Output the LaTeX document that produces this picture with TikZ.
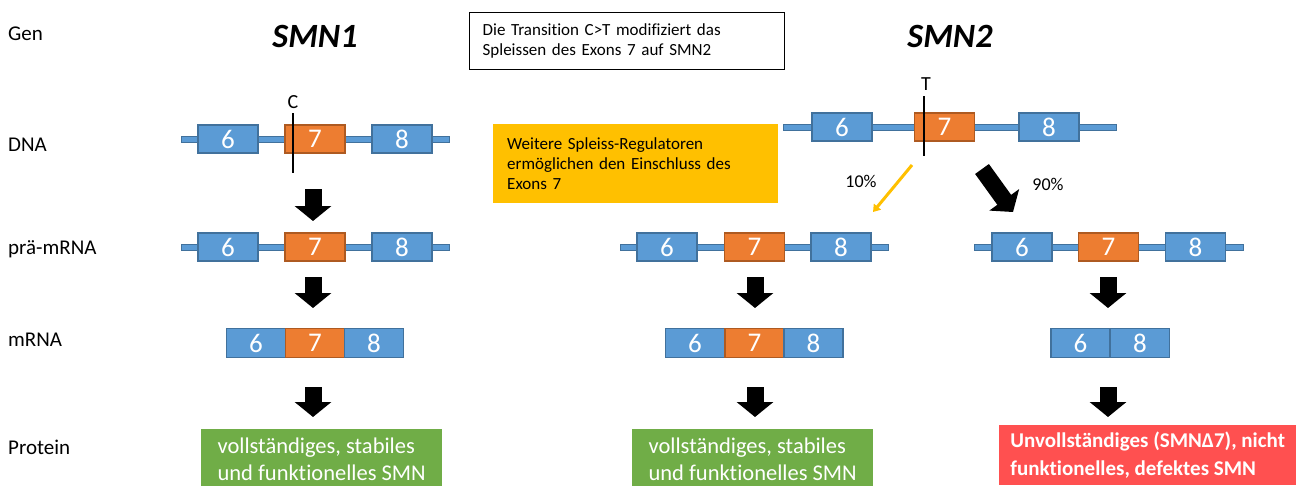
\documentclass[tikz,border=0pt]{standalone}
\usepackage{fontspec}
\setmainfont{Carlito}[Ligatures=NoCommon]
\usetikzlibrary{arrows.meta}
\definecolor{exblue}{HTML}{5B9BD5}
\definecolor{exblueb}{HTML}{41719C}
\definecolor{exor}{HTML}{ED7D31}
\definecolor{exorb}{HTML}{AE5A21}
\definecolor{pgreen}{HTML}{70AD47}
\definecolor{pred}{HTML}{FF5050}
\definecolor{gold}{HTML}{FFC000}
\begin{document}
\begin{tikzpicture}[x=1pt,y=-1pt,
 exon/.style={draw=exblueb, fill=exblue, line width=1.3pt, minimum width=60pt, minimum height=28pt, inner sep=0pt, text=white, font=\fontsize{27}{27}\selectfont},
 exseven/.style={exon, draw=exorb, fill=exor},
 mexon/.style={exon, minimum width=59pt, minimum height=29pt},
 mseven/.style={mexon, draw=exorb, fill=exor},
 intron/.style={draw=exblueb, fill=exblue, line width=1pt},
 rowlabel/.style={anchor=base west, font=\fontsize{21}{24}\selectfont, inner sep=0pt},
 gtitle/.style={anchor=base, font=\fontsize{34}{34}\selectfont\bfseries\itshape, inner sep=0pt},
 small/.style={anchor=base, font=\fontsize{18}{20}\selectfont, inner sep=0pt},
 baselabel/.style={anchor=base, font=\fontsize{20}{20}\selectfont, inner sep=0pt},
 blockarrow/.style={line width=17pt, -{Triangle[width=36pt,length=15pt]}},
 cut/.style={line width=2.5pt, black},
 protbox/.style={anchor=north west, text=white, align=left, inner xsep=11pt, inner ysep=4pt, minimum height=60pt, font=\fontsize{22.5}{27}\selectfont},
 notebox/.style={anchor=north west, align=left, inner xsep=14pt, font=\fontsize{17}{20}\selectfont}
]
\useasboundingbox (0,0) rectangle (1296,485);
% row labels
\node[rowlabel] (lgen) at (8,40) {Gen};
\node[rowlabel] (ldna) at (8,151) {DNA};
\node[rowlabel] (lpre) at (8,254) {prä-mRNA};
\node[rowlabel] (lmrna) at (8,346) {mRNA};
\node[rowlabel] (lprot) at (8,454) {Protein};
% titles
\node[gtitle] (t1) at (315,47) {SMN1};
\node[gtitle] (t2) at (950,47) {SMN2};
% top note box
\node[notebox, draw=black, line width=1.3pt, text width=289pt, minimum height=57pt, inner xsep=13pt] (note) at (469,12) {Die Transition C>T modifiziert das\\Spleissen des Exons 7 auf SMN2};
% yellow box
\node[notebox, fill=gold, text width=257pt, minimum height=79pt] (reg) at (493,124) {Weitere Spleiss-Regulatoren\\ermöglichen den Einschluss des\\Exons 7};

% SMN1 DNA
\draw[intron] (181,136) rectangle (449,142);
\node[exon] (a6) at (228,139) {6};
\node[exseven] (a7) at (315,139) {7};
\node[exon] (a8) at (402,139) {8};
\coordinate (c1) at (293,113);
\coordinate (c2) at (293,173);
\draw[cut] (c1) -- (c2);
\node[baselabel] (cC) at (293,108) {C};
% SMN1 pre-mRNA
\draw[intron] (181,244) rectangle (449,250);
\node[exon] (b6) at (228,247) {6};
\node[exseven] (b7) at (315,247) {7};
\node[exon] (b8) at (402,247) {8};
% SMN1 mRNA
\node[mexon] (m6) at (256,343) {6};
\node[mseven] (m7) at (315,343) {7};
\node[mexon] (m8) at (374,343) {8};
% SMN1 protein
\node[protbox, fill=pgreen, minimum width=241pt] (p1) at (201,429) {vollständiges, stabiles\\und funktionelles SMN};
% SMN1 arrows
\coordinate (s1a) at (313,189); \coordinate (s1b) at (313,221);
\coordinate (s2a) at (313,277); \coordinate (s2b) at (313,308);
\coordinate (s3a) at (313,387); \coordinate (s3b) at (313,417);
\draw[blockarrow] (s1a) -- (s1b);
\draw[blockarrow] (s2a) -- (s2b);
\draw[blockarrow] (s3a) -- (s3b);

% SMN2 DNA
\draw[intron] (783,124) rectangle (1116,130);
\node[exon] (d6) at (842,127) {6};
\node[exseven] (d7) at (944.5,127) {7};
\node[exon] (d8) at (1049,127) {8};
\coordinate (t1a) at (924,96);
\coordinate (t1b) at (924,156);
\draw[cut] (t1a) -- (t1b);
\node[baselabel] (tT) at (926,90) {T};

% split arrows
\coordinate (ya) at (912,165); \coordinate (yb) at (873,212);
\draw[gold, line width=3pt, -{Triangle[width=9pt,length=7pt]}] (ya) -- (yb);
\node[small] (p10) at (861,187) {10\%};
\coordinate (ka) at (982,169); \coordinate (kb) at (1013,212);
\draw[blockarrow] (ka) -- (kb);
\node[small] (p90) at (1048,190) {90\%};

% SMN2 middle pre-mRNA
\draw[intron] (620,244) rectangle (888,250);
\node[exon] (e6) at (667,247) {6};
\node[exseven] (e7) at (754.5,247) {7};
\node[exon] (e8) at (841,247) {8};
\node[mexon] (n6) at (695,343) {6};
\node[mseven] (n7) at (754.5,343) {7};
\node[mexon] (n8) at (813.5,343) {8};
\node[protbox, fill=pgreen, minimum width=241pt] (p2) at (632,429) {vollständiges, stabiles\\und funktionelles SMN};
\coordinate (u1a) at (755,277); \coordinate (u1b) at (755,308);
\coordinate (u2a) at (755,387); \coordinate (u2b) at (755,417);
\draw[blockarrow] (u1a) -- (u1b);
\draw[blockarrow] (u2a) -- (u2b);

% SMN2 right pre-mRNA
\draw[intron] (974,244) rectangle (1243,250);
\node[exon] (f6) at (1022,247) {6};
\node[exseven] (f7) at (1108.5,247) {7};
\node[exon] (f8) at (1195.5,247) {8};
\node[mexon] (q6) at (1080.5,343) {6};
\node[mexon] (q8) at (1140,343) {8};
\node[protbox, fill=pred, minimum width=297pt, font=\fontsize{21}{28}\selectfont\bfseries, minimum height=60pt] (p3) at (999,425) {Unvollständiges (SMNΔ7), nicht\\funktionelles, defektes SMN};
\coordinate (v1a) at (1108,277); \coordinate (v1b) at (1108,308);
\coordinate (v2a) at (1108,387); \coordinate (v2b) at (1108,417);
\draw[blockarrow] (v1a) -- (v1b);
\draw[blockarrow] (v2a) -- (v2b);
\end{tikzpicture}
\end{document}
